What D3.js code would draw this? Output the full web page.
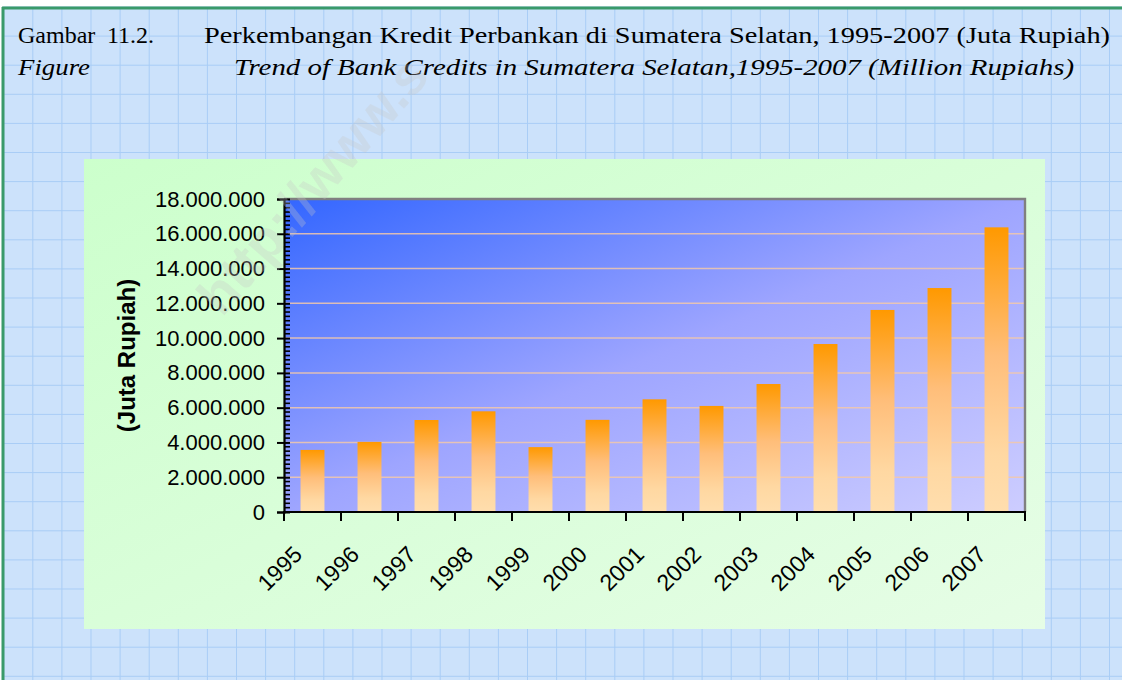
<!DOCTYPE html>
<html>
<head>
<meta charset="utf-8">
<script src="https://cdn.jsdelivr.net/npm/d3@7"></script>
<style>
  body { margin: 0; background: #fff; }
  svg { display: block; }
</style>
</head>
<body>
<svg id="chart" width="1122" height="680"></svg>
<script>
// data (juta rupiah)
var years = ["1995", "1996", "1997", "1998", "1999", "2000", "2001",
             "2002", "2003", "2004", "2005", "2006", "2007"];
var credits = [3570000, 4030000, 5290000, 5790000, 3730000, 5300000, 6480000,
               6100000, 7360000, 9660000, 11620000, 12880000, 16370000];
var yDomain = [0, 18000000];
var yStep = 2000000;
var yMinorStep = 250000;

var titleId = ["Gambar", "11.2.", "Perkembangan Kredit Perbankan di Sumatera Selatan, 1995-2007 (Juta Rupiah)"];
var titleEn = ["Figure", "Trend of Bank Credits in Sumatera Selatan,1995-2007 (Million Rupiahs)"];
var yTitle = "(Juta Rupiah)";
var watermark = "http://www.s";

var svg = d3.select("svg#chart"),
  width = +svg.attr("width"),
  height = +svg.attr("height");

var defs = svg.append("defs");

function diagGradient(id, stops) {
  var g = defs.append("linearGradient").attr("id", id)
    .attr("x1", 0).attr("y1", 0).attr("x2", 1).attr("y2", 1);
  stops.forEach(function(s) {
    g.append("stop").attr("offset", s[0]).attr("stop-color", s[1]);
  });
}
diagGradient("boxGrad", [[0, "#ccffcc"], [1, "#e6fde6"]]);
diagGradient("plotGrad", [[0, "#3366ff"], [0.5, "#9ea5ff"], [1, "#cdcdff"]]);

var barGrad = defs.append("linearGradient").attr("id", "barGrad")
  .attr("x1", 0).attr("y1", 0).attr("x2", 0).attr("y2", 1);
[[0, "#ff9900"], [0.45, "#ffbe7a"], [0.8, "#ffd8a2"], [1, "#ffdeae"]].forEach(function(s) {
  barGrad.append("stop").attr("offset", s[0]).attr("stop-color", s[1]);
});

// page background with grid paper
svg.append("rect")
  .attr("x", 3).attr("y", 7).attr("width", width - 3).attr("height", height - 7)
  .attr("fill", "#cce2fb");

var paper = svg.append("g").attr("stroke", "#a9cdf6").attr("stroke-width", 1);
d3.range(3.7, width, 29.1).forEach(function(x) {
  paper.append("line").attr("x1", x).attr("x2", x).attr("y1", 7).attr("y2", height);
});
d3.range(7, height, 29.1).forEach(function(y) {
  paper.append("line").attr("x1", 3).attr("x2", width).attr("y1", y).attr("y2", y);
});

// green frame, top and left
svg.append("line").attr("x1", 2).attr("x2", width).attr("y1", 8).attr("y2", 8)
  .attr("stroke", "#3a9a6a").attr("stroke-width", 3);
svg.append("line").attr("x1", 3).attr("x2", 3).attr("y1", 7).attr("y2", height)
  .attr("stroke", "#3a9a6a").attr("stroke-width", 3);

// titles (the long lines are a bit wider than plain Times, so stretch them)
var tSerif = "'Liberation Serif', 'Times New Roman', serif";
var t1 = svg.append("g").attr("font-family", tSerif).attr("font-size", 24).attr("fill", "#000");
t1.append("text").attr("x", 18).attr("y", 43).text(titleId[0]);
t1.append("text").attr("x", 107).attr("y", 43).text(titleId[1]);
t1.append("text").attr("x", 204).attr("y", 43)
  .attr("textLength", 906).attr("lengthAdjust", "spacingAndGlyphs")
  .text(titleId[2]);
var t2 = svg.append("g").attr("font-family", tSerif).attr("font-size", 24)
  .attr("font-style", "italic").attr("fill", "#000");
t2.append("text").attr("x", 18).attr("y", 75)
  .attr("textLength", 72).attr("lengthAdjust", "spacingAndGlyphs")
  .text(titleEn[0]);
t2.append("text").attr("x", 234).attr("y", 75)
  .attr("textLength", 840).attr("lengthAdjust", "spacingAndGlyphs")
  .text(titleEn[1]);

// chart box
svg.append("rect")
  .attr("x", 84).attr("y", 159).attr("width", 961).attr("height", 470)
  .attr("fill", "url(#boxGrad)");

var plot = { left: 284, top: 199, right: 1025, bottom: 512 };

var x = d3.scaleBand()
  .domain(years)
  .range([plot.left, plot.right])
  .paddingInner(0.58)
  .paddingOuter(0.29);

var band = d3.scaleBand().domain(years).range([plot.left, plot.right]);

var y = d3.scaleLinear()
  .domain(yDomain)
  .range([plot.bottom, plot.top]);

svg.append("rect")
  .attr("x", plot.left).attr("y", plot.top)
  .attr("width", plot.right - plot.left).attr("height", plot.bottom - plot.top)
  .attr("fill", "url(#plotGrad)");

// gridlines
var yTicks = d3.range(yDomain[0], yDomain[1] + 1, yStep);
svg.append("g")
  .selectAll("line")
  .data(yTicks.filter(function(d) { return d > 0 && d < yDomain[1]; }))
  .enter().append("line")
  .attr("x1", plot.left).attr("x2", plot.right)
  .attr("y1", function(d) { return y(d); })
  .attr("y2", function(d) { return y(d); })
  .attr("stroke", "#f2c8aa")
  .attr("stroke-opacity", 0.85)
  .attr("stroke-width", 1.5);

// bars
svg.append("g")
  .selectAll("rect")
  .data(credits)
  .enter().append("rect")
  .attr("x", function(d, i) { return x(years[i]); })
  .attr("y", function(d) { return y(d); })
  .attr("width", x.bandwidth())
  .attr("height", function(d) { return y(0) - y(d); })
  .attr("fill", "url(#barGrad)");

// plot border top/right
svg.append("path")
  .attr("d", "M" + plot.left + "," + plot.top + "H" + plot.right + "V" + plot.bottom)
  .attr("fill", "none").attr("stroke", "#808080").attr("stroke-width", 2.4);

var fmt = d3.formatLocale({ decimal: ",", thousands: ".", grouping: [3], currency: ["", ""] }).format(",d");
var sans = "'Liberation Sans', Arial, sans-serif";

// y axis
var yAxis = svg.append("g")
  .attr("transform", "translate(" + plot.left + ",0)")
  .call(d3.axisLeft(y).tickValues(yTicks).tickFormat(fmt).tickSize(7).tickPadding(12));
yAxis.select(".domain").attr("stroke", "#000").attr("stroke-width", 2.2);
yAxis.selectAll(".tick line").attr("stroke", "#000").attr("stroke-width", 2).attr("x2", -7).attr("x1", 6);
yAxis.selectAll(".tick text").attr("font-family", sans).attr("font-size", 22).attr("fill", "#000");

yAxis.append("g")
  .selectAll("line")
  .data(d3.range(yDomain[0], yDomain[1], yMinorStep).filter(function(d) { return d % yStep !== 0; }))
  .enter().append("line")
  .attr("x1", 0).attr("x2", 6)
  .attr("y1", function(d) { return y(d); })
  .attr("y2", function(d) { return y(d); })
  .attr("stroke", "#000").attr("stroke-width", 1.6);

// x axis
var xAxis = svg.append("g")
  .attr("transform", "translate(0," + plot.bottom + ")");
xAxis.append("line")
  .attr("x1", plot.left - 1).attr("x2", plot.right + 1)
  .attr("stroke", "#000").attr("stroke-width", 2.2);
xAxis.append("g")
  .selectAll("line")
  .data(years.concat(["end"]))
  .enter().append("line")
  .attr("x1", function(d, i) { return i < years.length ? band(d) : plot.right; })
  .attr("x2", function(d, i) { return i < years.length ? band(d) : plot.right; })
  .attr("y1", 0).attr("y2", 9)
  .attr("stroke", "#000").attr("stroke-width", 2);
xAxis.append("g")
  .selectAll("text")
  .data(years)
  .enter().append("text")
  .attr("transform", function(d) {
    var cx = band(d) + band.bandwidth() / 2;
    return "translate(" + (cx - 9) + "," + 44 + ") rotate(-45)";
  })
  .attr("text-anchor", "end")
  .attr("font-family", sans)
  .attr("font-size", 23)
  .attr("fill", "#000")
  .text(function(d) { return d; });

// y axis title
svg.append("text")
  .attr("transform", "translate(135," + ((plot.top + plot.bottom) / 2) + ") rotate(-90)")
  .attr("text-anchor", "middle")
  .attr("font-family", sans)
  .attr("font-size", 24)
  .attr("font-weight", "bold")
  .attr("fill", "#000")
  .text(yTitle);

// faint watermark running up out of the plot
svg.append("text")
  .attr("transform", "translate(222,318) rotate(-49)")
  .attr("font-family", sans)
  .attr("font-size", 54)
  .attr("font-weight", "bold")
  .attr("fill", "#c8c8c8")
  .attr("fill-opacity", 0.3)
  .text(watermark);
</script>
</body>
</html>
